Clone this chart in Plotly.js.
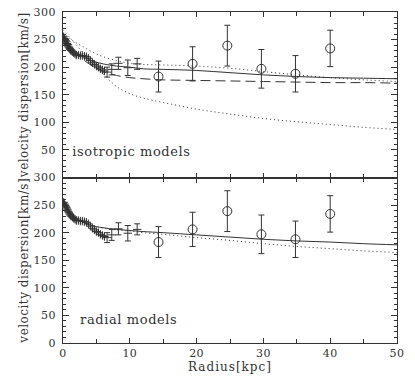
<!DOCTYPE html>
<html>
<head>
<meta charset="utf-8">
<script src="https://cdn.plot.ly/plotly-3.0.1.min.js"></script>
<style>
  html, body { margin: 0; padding: 0; background: #fff; }
  #graph-container { width: 415px; height: 387px; }
  #graph-container text.ytitle, #graph-container text.y2title { letter-spacing: 0.5px; }
  #graph-container text.xtitle { letter-spacing: 1px; }
  #graph-container text.annotation-text { letter-spacing: 0.6px; }
  #graph-container .xtick text, #graph-container .ytick text, #graph-container .y2tick text { letter-spacing: 0.4px; }
</style>
</head>
<body>
<div id="graph-container"></div>
<script>
// inner long-slit points (kpc, km/s)
const innerR = [0.1, 0.2, 0.3, 0.4, 0.5, 0.6, 0.7, 0.8, 0.9, 1.0, 1.1, 1.2, 1.4, 1.6, 1.8, 2.0, 2.3, 2.6, 2.9, 3.2, 3.5, 3.8, 4.1, 4.4, 4.7, 5.0, 5.3, 5.6, 5.9, 6.2];
const innerV = [255, 252, 250, 248, 246, 243, 241, 238, 236, 234, 232, 230, 228, 226, 224, 222, 222, 221, 221, 220, 219, 216, 212, 208, 205, 202, 200, 197, 195, 193];
const innerE = [5, 5, 5, 5, 5, 5, 5, 5, 5, 5, 5, 5, 5, 5, 5, 5, 5, 5, 5, 5, 5, 5, 5, 5, 5, 6, 6, 6, 6, 6];

const midR = [6.6, 7.3, 8.3, 9.7, 11.1];
const midV = [191, 196, 207, 199, 206];
const midE = [9, 10, 11, 14, 10];

// outer points (open circles)
const outerR = [14.3, 19.4, 24.6, 29.7, 34.8, 40.0];
const outerV = [183, 206, 239, 197, 188, 234];
const outerE = [28, 31, 37, 35, 33, 33];

// model curves
const modelR = [0, 1, 2, 3, 4, 5, 6, 8, 10, 12, 15, 20, 25, 30, 35, 40, 45, 50];
const isoSolid = [246, 235, 226, 219, 213, 209, 206, 202, 200, 197, 196, 194, 190, 186, 183, 181, 180, 179];
const isoDashed = [250, 236, 224, 214, 205, 198, 192, 185, 181, 179, 177, 176, 175, 174, 173, 172, 172, 171];
const isoDotHigh = [262, 252, 244, 237, 230, 224, 219, 212, 207, 205, 204, 202, 198, 192, 186, 181, 177, 174];
const isoDotLow = [268, 254, 240, 226, 213, 200, 188, 165, 152, 144, 136, 124, 115, 107, 101, 96, 91, 87];
const radSolid = [250, 236, 226, 219, 214, 211, 209, 206, 204, 202, 200, 196, 192, 188, 185, 183, 180, 178];
const radDot = [256, 240, 229, 221, 215, 211, 208, 205, 203, 200, 197, 191, 186, 180, 175, 171, 167, 164];

const ink = '#333';
const font = 'DejaVu Serif, serif';

function dataTraces(xa, ya) {
    return [
        {
            x: innerR, y: innerV, xaxis: xa, yaxis: ya, type: 'scatter', mode: 'markers',
            marker: {symbol: 'cross-thin-open', size: 6, color: ink, line: {color: ink, width: 1}},
            error_y: {type: 'data', array: innerE, color: ink, thickness: 1, width: 0}
        },
        {
            x: midR, y: midV, xaxis: xa, yaxis: ya, type: 'scatter', mode: 'markers',
            marker: {symbol: 'line-ew-open', size: 6, color: ink, line: {color: ink, width: 1}},
            error_y: {type: 'data', array: midE, color: ink, thickness: 1, width: 3}
        },
        {
            x: outerR, y: outerV, xaxis: xa, yaxis: ya, type: 'scatter', mode: 'markers',
            marker: {symbol: 'circle-open', size: 9, color: ink, line: {color: ink, width: 1}},
            error_y: {type: 'data', array: outerE, color: ink, thickness: 1, width: 3}
        }
    ];
}

function model(y, dash, xa, ya) {
    return {
        x: modelR, y: y, xaxis: xa, yaxis: ya, type: 'scatter', mode: 'lines',
        line: {color: ink, width: 1, dash: dash, shape: 'spline'}
    };
}

const traces = [
    model(isoSolid, 'solid', 'x2', 'y2'),
    model(isoDashed, '10px,5px', 'x2', 'y2'),
    model(isoDotHigh, '1px,3px', 'x2', 'y2'),
    model(isoDotLow, '1px,3px', 'x2', 'y2'),
    model(radSolid, 'solid', 'x', 'y'),
    model(radDot, '1px,3px', 'x', 'y'),
    ...dataTraces('x2', 'y2'),
    ...dataTraces('x', 'y')
];

const xBase = {
    range: [0, 50], dtick: 10, ticks: 'inside', ticklen: 5, tickcolor: ink,
    minor: {dtick: 5, ticks: 'inside', ticklen: 4, tickcolor: ink},
    showline: true, linecolor: ink, linewidth: 1, mirror: 'allticks',
    showgrid: false, zeroline: false, tickfont: {family: font, size: 11, color: ink}
};

const yTitle = {text: 'velocity dispersion[km/s]', font: {family: font, size: 12, color: ink}, standoff: 3};

const yBase = {
    range: [0, 300], ticks: 'inside', ticklen: 6, tickcolor: ink,
    minor: {dtick: 10, ticks: 'inside', ticklen: 3, tickcolor: ink},
    showline: true, linecolor: ink, linewidth: 1, mirror: 'allticks',
    showgrid: false, zeroline: false, tickfont: {family: font, size: 11, color: ink},
    ticklabelstandoff: 4
};

const layout = {
    width: 415, height: 387,
    margin: {l: 63, r: 18, t: 12, b: 44},
    paper_bgcolor: '#fff', plot_bgcolor: '#fff',
    showlegend: false,
    xaxis: Object.assign({}, xBase, {
        anchor: 'y',
        title: {text: 'Radius[kpc]', font: {family: font, size: 12, color: ink}, standoff: 3}
    }),
    xaxis2: Object.assign({}, xBase, {anchor: 'y2', showticklabels: false}),
    yaxis: Object.assign({}, yBase, {
        domain: [0, 0.5], anchor: 'x',
        tickvals: [0, 50, 100, 150, 200, 250, 300], title: yTitle
    }),
    yaxis2: Object.assign({}, yBase, {
        domain: [0.5, 1], anchor: 'x2',
        tickvals: [50, 100, 150, 200, 250, 300], title: yTitle
    }),
    annotations: [
        {text: 'isotropic models', x: 1.8, y: 47, xref: 'x2', yref: 'y2', xanchor: 'left',
         showarrow: false, font: {family: font, size: 13, color: ink}},
        {text: 'radial models', x: 2.9, y: 43, xref: 'x', yref: 'y', xanchor: 'left',
         showarrow: false, font: {family: font, size: 13, color: ink}}
    ]
};

window.addEventListener('DOMContentLoaded', () => {
    Plotly.newPlot('graph-container', traces, layout, {staticPlot: true});
});
</script>
</body>
</html>
